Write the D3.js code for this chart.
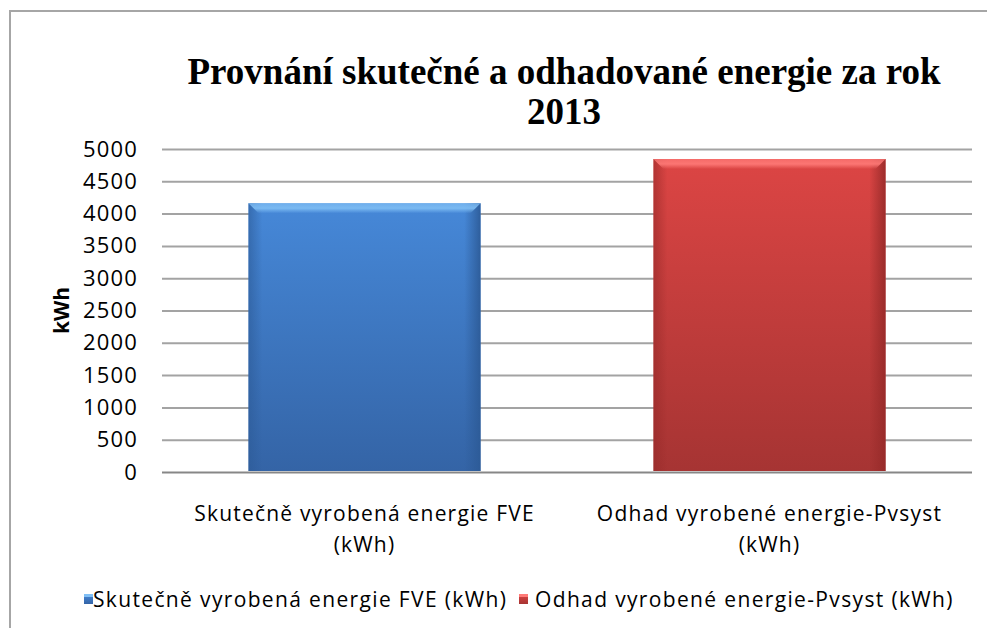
<!DOCTYPE html>
<html>
<head>
<meta charset="utf-8">
<script src="https://cdn.jsdelivr.net/npm/d3@7"></script>
<style>
  body { margin: 0; background: #fff; }
  svg { display: block; }
  .sans { font-family: "Open Sans", sans-serif; font-size: 21px; letter-spacing: 1.2px; fill: #000; }
  .legend text { letter-spacing: 1.35px; }
  .tickl { font-family: "Open Sans", sans-serif; font-size: 22px; letter-spacing: 1.2px; fill: #000; }
</style>
</head>
<body>
<svg width="987" height="628"></svg>
<script>
// data
var categories = ['Skutečně vyrobená energie FVE (kWh)', 'Odhad vyrobené energie-Pvsyst (kWh)'];
var categoryLines = [['Skutečně vyrobená energie FVE', '(kWh)'], ['Odhad vyrobené energie-Pvsyst', '(kWh)']];
var values = [4160, 4845];
var yTicks = [0, 500, 1000, 1500, 2000, 2500, 3000, 3500, 4000, 4500, 5000];
var titleLines = ['Provnání skutečné a odhadované energie za rok', '2013'];
var yLabel = 'kWh';

var palette = [
    {top: '#4688d8', bottom: '#3464a6', light: '#80bff5', edge: '#2c5a96'},
    {top: '#dc4544', bottom: '#a63433', light: '#ff7b78', edge: '#962a29'}
];

var dom = {};
var plot = {left: 162, right: 972, top: 149, bottom: 472};

function initDom() {
    dom.svg = d3.select('svg');
    dom.defs = dom.svg.append('defs');
}

function drawFrame() {
    dom.svg.append('rect')
        .attr('x', 10).attr('y', 11)
        .attr('width', 1000).attr('height', 700)
        .attr('fill', '#fff')
        .attr('stroke', '#a6a6a6')
        .attr('stroke-width', 2);
}

function drawTitle() {
    dom.svg.append('text')
        .attr('x', 564).attr('y', 84)
        .attr('text-anchor', 'middle')
        .style('font-family', '"Liberation Serif", "Times New Roman", serif')
        .style('font-weight', 'bold')
        .style('font-size', '37px')
        .selectAll('tspan')
            .data(titleLines)
        .enter().append('tspan')
            .attr('x', 564)
            .attr('dy', function(d, i) { return i ? 40 : 0; })
            .text(function(d) { return d; });
}

function drawAxes() {
    var y = d3.scaleLinear().domain([0, 5000]).range([plot.bottom, plot.top]);
    var x = d3.scaleBand().domain(categories)
        .range([plot.left, plot.right])
        .paddingInner(0.427).paddingOuter(0.2135);

    // gridlines
    var grid = dom.svg.append('g')
        .attr('transform', 'translate(' + plot.left + ',0)')
        .call(d3.axisLeft(y).tickValues(yTicks).tickSize(-(plot.right - plot.left)).tickFormat(''));
    grid.select('.domain').remove();
    grid.selectAll('line')
        .attr('stroke', function(d) { return d === 0 ? '#878787' : '#a3a3a3'; })
        .attr('stroke-width', 2);

    // tick labels
    var axis = dom.svg.append('g')
        .attr('transform', 'translate(' + plot.left + ',0)')
        .call(d3.axisLeft(y).tickValues(yTicks).tickSize(0).tickPadding(24).tickFormat(d3.format('d')));
    axis.select('.domain').remove();
    axis.attr('font-family', null).attr('font-size', null);
    axis.selectAll('text').attr('class', 'tickl');

    // y label
    dom.svg.append('text')
        .attr('transform', 'translate(69,' + ((plot.top + plot.bottom) / 2) + ') rotate(-90)')
        .attr('text-anchor', 'middle')
        .style('font-family', '"Open Sans", sans-serif')
        .style('font-weight', 'bold')
        .style('font-size', '21px')
        .text(yLabel);

    return {x: x, y: y};
}

function makeGradients() {
    palette.forEach(function(p, i) {
        var v = dom.defs.append('linearGradient')
            .attr('id', 'fill' + i).attr('x1', 0).attr('y1', 0).attr('x2', 0).attr('y2', 1);
        v.append('stop').attr('offset', 0).attr('stop-color', p.top);
        v.append('stop').attr('offset', 1).attr('stop-color', p.bottom);

        var h = dom.defs.append('linearGradient')
            .attr('id', 'side' + i).attr('x1', 0).attr('y1', 0).attr('x2', 1).attr('y2', 0);
        h.append('stop').attr('offset', 0).attr('stop-color', p.edge).attr('stop-opacity', 0.6);
        h.append('stop').attr('offset', 0.06).attr('stop-color', p.edge).attr('stop-opacity', 0);
        h.append('stop').attr('offset', 0.93).attr('stop-color', p.edge).attr('stop-opacity', 0);
        h.append('stop').attr('offset', 1).attr('stop-color', p.edge).attr('stop-opacity', 0.9);

        var t = dom.defs.append('linearGradient')
            .attr('id', 'bevel' + i).attr('x1', 0).attr('y1', 0).attr('x2', 0).attr('y2', 1);
        t.append('stop').attr('offset', 0).attr('stop-color', p.light).attr('stop-opacity', 0.7);
        t.append('stop').attr('offset', 0.5).attr('stop-color', p.light).attr('stop-opacity', 0.9);
        t.append('stop').attr('offset', 1).attr('stop-color', p.light).attr('stop-opacity', 0);
    });
}

function drawBars(s) {
    var bars = dom.svg.append('g').selectAll('.bar')
            .data(values)
        .enter().append('g')
            .classed('bar', true);

    bars.append('rect')
        .attr('x', function(d, i) { return s.x(categories[i]); })
        .attr('y', function(d) { return s.y(d); })
        .attr('width', s.x.bandwidth())
        .attr('height', function(d) { return s.y(0) - s.y(d) - 1; })
        .attr('fill', function(d, i) { return 'url(#fill' + i + ')'; });

    bars.append('rect')
        .attr('x', function(d, i) { return s.x(categories[i]); })
        .attr('y', function(d) { return s.y(d); })
        .attr('width', s.x.bandwidth())
        .attr('height', function(d) { return s.y(0) - s.y(d) - 1; })
        .attr('fill', function(d, i) { return 'url(#side' + i + ')'; });

    bars.append('polygon')
        .attr('points', function(d, i) {
            var x0 = s.x(categories[i]), x1 = x0 + s.x.bandwidth(), y0 = s.y(d), b = 10;
            return [[x0, y0], [x1, y0], [x1 - b, y0 + b], [x0 + b, y0 + b]].join(' ');
        })
        .attr('fill', function(d, i) { return 'url(#bevel' + i + ')'; });

    // category labels
    dom.svg.append('g').selectAll('text')
            .data(categoryLines)
        .enter().append('text')
            .attr('class', 'sans')
            .attr('text-anchor', 'middle')
            .attr('y', 521)
        .selectAll('tspan')
            .data(function(d, i) { return d.map(function(t) { return {t: t, i: i}; }); })
        .enter().append('tspan')
            .attr('x', function(d) { return s.x(categories[d.i]) + s.x.bandwidth() / 2; })
            .attr('dy', function(d, j) { return j ? 31 : 0; })
            .text(function(d) { return d.t; });
}

function drawLegend() {
    var items = [{x: 84, text: categories[0]}, {x: 519, text: categories[1]}];
    var g = dom.svg.append('g').selectAll('.legend')
            .data(items)
        .enter().append('g')
            .classed('legend', true)
            .attr('transform', function(d) { return 'translate(' + d.x + ',594)'; });

    g.append('rect')
        .attr('width', 9).attr('height', 10)
        .attr('fill', function(d, i) { return 'url(#fill' + i + ')'; });
    g.append('rect')
        .attr('width', 9).attr('height', 3)
        .attr('fill', function(d, i) { return palette[i].light; });

    g.append('text')
        .attr('class', 'sans')
        .attr('x', function(d, i) { return i ? 16 : 9; }).attr('y', 13)
        .text(function(d) { return d.text; });
}

function initialize() {
    initDom();
    drawFrame();
    makeGradients();
    drawTitle();
    var s = drawAxes();
    drawBars(s);
    drawLegend();
}

initialize();
</script>
</body>
</html>
